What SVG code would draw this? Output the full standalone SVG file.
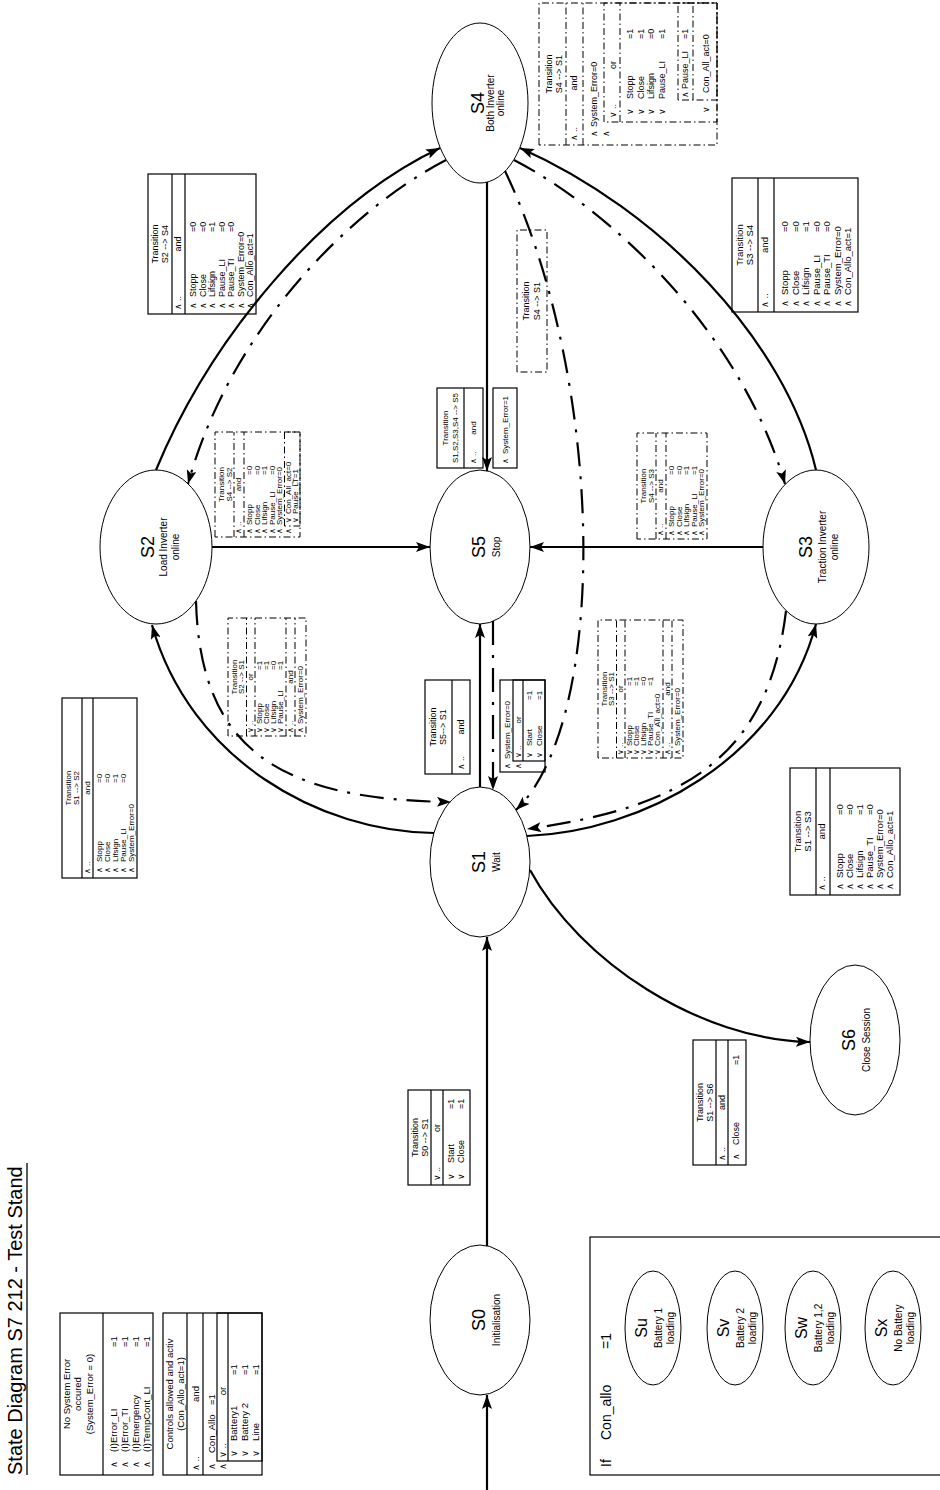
<svg xmlns="http://www.w3.org/2000/svg" width="940" height="1490" viewBox="0 0 940 1490">
<defs>
<marker id="ah" markerWidth="14" markerHeight="10" refX="14" refY="5" orient="auto" markerUnits="userSpaceOnUse">
<path d="M0,0 L14,5 L0,10 L3,5 z" fill="#000"/>
</marker>
</defs>
<style>
text{font-family:"Liberation Sans","DejaVu Sans",Arial,sans-serif;font-size:9.5px;fill:#000}
.c{text-anchor:middle}
.s8 text{font-size:8px}
.s9 text{font-size:9px}
.big{font-size:18px;text-anchor:middle}
.sub{font-size:10px;text-anchor:middle}
.box{fill:#fff;stroke:#000;stroke-width:1.2}
.dbox{fill:#fff;stroke:#000;stroke-width:1;stroke-dasharray:7 3 1.5 3}
.ln{stroke:#000;stroke-width:1.2;fill:none}
.dln{stroke:#000;stroke-width:1;fill:none;stroke-dasharray:7 3 1.5 3}
.st{fill:#fff;stroke:#000;stroke-width:1}
.e{fill:none;stroke:#000;stroke-width:2.2;marker-end:url(#ah)}
.ed{fill:none;stroke:#000;stroke-width:2.2;stroke-dasharray:24 10 3 10;marker-end:url(#ah)}
</style>
<rect width="940" height="1490" fill="#fff"/>

<g id="title">
<text transform="translate(22,1475) rotate(-90)" style="font-size:20px">State Diagram S7 212 - Test Stand</text>
<path d="M27 1475V1163" stroke="#000" stroke-width="1.3"/>
</g>

<g id="no-error" transform="translate(60,1475) rotate(-90)">
<rect class="box" width="162" height="93"/>
<text class="c" x="81" y="10">No System Error</text>
<text class="c" x="81" y="21">occured</text>
<text class="c" x="81" y="33">(System_Error = 0)</text>
<path class="ln" d="M0 43H162"/>
<text x="7" y="56.5">∧</text><text x="23" y="56.5">(I)Error_LI</text><text x="128" y="56.5">=1</text>
<text x="7" y="67.5">∧</text><text x="23" y="67.5">(I)Error_TI</text><text x="128" y="67.5">=1</text>
<text x="7" y="78.5">∧</text><text x="23" y="78.5">(I)Emergency</text><text x="128" y="78.5">=1</text>
<text x="7" y="89.5">∧</text><text x="23" y="89.5">(I)TempCont_LI</text><text x="128" y="89.5">=1</text>
</g>

<g id="controls" transform="translate(163,1475) rotate(-90)">
<rect class="box" width="162" height="99"/>
<text class="c" x="81" y="10">Controls allowed and activ</text>
<text class="c" x="81" y="21">(Con_Allo_act=1)</text>
<path class="ln" d="M0 24H162M0 40H162"/>
<text x="4" y="35.5">∧ ..</text><text class="c" x="81" y="35.5">and</text>
<text x="5" y="51.5">∧</text><text x="22" y="51.5">Con_Allo</text><text x="70" y="51.5">=1</text>
<text x="5" y="63">∧</text>
<rect class="ln" x="14" y="54" width="148" height="45"/>
<text x="17" y="62.5">∨ ..</text><text class="c" x="84" y="62.5">or</text>
<path class="ln" d="M14 65H162"/>
<text x="18" y="74">∨</text><text x="34" y="74">Battery1</text><text x="100" y="74">=1</text>
<text x="18" y="85">∨</text><text x="34" y="85">Battery 2</text><text x="100" y="85">=1</text>
<text x="18" y="96">∨</text><text x="34" y="96">Line</text><text x="100" y="96">=1</text>
</g>

<g id="t-s0-s1" class="s9" transform="translate(408,1185) rotate(-90)">
<rect class="box" width="95" height="62"/>
<text class="c" x="47.5" y="10">Transition</text>
<text class="c" x="47.5" y="19.5">S0 --&gt; S1</text>
<path class="ln" d="M0 23H95M0 35H95"/>
<text x="4" y="31.5">∨ ..</text><text x="53" y="31.5">or</text>
<text x="5" y="45.5">∨</text><text x="22" y="45.5">Start</text><text x="76" y="45.5">=1</text>
<text x="5" y="56">∨</text><text x="22" y="56">Close</text><text x="76" y="56">=1</text>
</g>

<g id="t-s1-s6" class="s9" transform="translate(693,1165) rotate(-90)">
<rect class="box" width="125" height="53"/>
<text class="c" x="62.5" y="10">Transition</text>
<text class="c" x="62.5" y="19.5">S1 --&gt; S6</text>
<path class="ln" d="M0 23H125M0 35H125"/>
<text x="4" y="31.5">∧ ..</text><text class="c" x="62.5" y="31.5">and</text>
<text x="5" y="46">∧</text><text x="20" y="46">Close</text><text x="100" y="46">=1</text>
</g>

<g id="t-s1-s3" transform="translate(790,895) rotate(-90)">
<rect class="box" width="127" height="110"/>
<text class="c" x="63.5" y="10.5">Transition</text>
<text class="c" x="63.5" y="21">S1 --&gt; S3</text>
<path class="ln" d="M0 26H127M0 40H127"/>
<text x="4" y="35">∧ ..</text><text class="c" x="63.5" y="35">and</text>
<text x="5" y="53">∧</text><text x="17" y="53">Stopp</text><text x="80" y="53">=0</text>
<text x="5" y="63">∧</text><text x="17" y="63">Close</text><text x="80" y="63">=0</text>
<text x="5" y="73">∧</text><text x="17" y="73">Lifsign</text><text x="80" y="73">=1</text>
<text x="5" y="83">∧</text><text x="17" y="83">Pause_TI</text><text x="80" y="83">=0</text>
<text x="5" y="93">∧</text><text x="17" y="93">System_Error=0</text>
<text x="5" y="103">∧</text><text x="17" y="103">Con_Allo_act=1</text>
</g>

<g id="t-s3-s4" transform="translate(732,312) rotate(-90)">
<rect class="box" width="134" height="126"/>
<text class="c" x="67" y="10.5">Transition</text>
<text class="c" x="67" y="21">S3 --&gt; S4</text>
<path class="ln" d="M0 26H134M0 42H134"/>
<text x="4" y="36">∧ ..</text><text class="c" x="67" y="36">and</text>
<text x="5" y="56">∧</text><text x="17" y="56">Stopp</text><text x="80" y="56">=0</text>
<text x="5" y="66.5">∧</text><text x="17" y="66.5">Close</text><text x="80" y="66.5">=0</text>
<text x="5" y="77">∧</text><text x="17" y="77">Lifsign</text><text x="80" y="77">=1</text>
<text x="5" y="87.5">∧</text><text x="17" y="87.5">Pause_LI</text><text x="80" y="87.5">=0</text>
<text x="5" y="98">∧</text><text x="17" y="98">Pause_TI</text><text x="80" y="98">=0</text>
<text x="5" y="108.5">∧</text><text x="17" y="108.5">System_Error=0</text>
<text x="5" y="119">∧</text><text x="17" y="119">Con_Allo_act=1</text>
</g>

<g id="t-s2-s4" class="s9" transform="translate(148,314) rotate(-90)">
<rect class="box" width="140" height="108"/>
<text class="c" x="70" y="10">Transition</text>
<text class="c" x="70" y="20">S2 --&gt; S4</text>
<path class="ln" d="M0 24H140M0 37H140"/>
<text x="4" y="33">∧ ..</text><text class="c" x="70" y="33">and</text>
<text x="5" y="48">∧</text><text x="17" y="48">Stopp</text><text x="82" y="48">=0</text>
<text x="5" y="57.5">∧</text><text x="17" y="57.5">Close</text><text x="82" y="57.5">=0</text>
<text x="5" y="67">∧</text><text x="17" y="67">Lifsign</text><text x="82" y="67">=1</text>
<text x="5" y="76.5">∧</text><text x="17" y="76.5">Pause_LI</text><text x="82" y="76.5">=0</text>
<text x="5" y="86">∧</text><text x="17" y="86">Pause_TI</text><text x="82" y="86">=0</text>
<text x="5" y="95.5">∧</text><text x="17" y="95.5">System_Error=0</text>
<text x="5" y="105">∧</text><text x="17" y="105">Con_Allo_act=1</text>
</g>

<g id="t-s1-s2" class="s8" transform="translate(62,878) rotate(-90)">
<rect class="box" width="180" height="75"/>
<text class="c" x="90" y="9">Transition</text>
<text class="c" x="90" y="17">S1 --&gt; S2</text>
<path class="ln" d="M0 20H180M0 31H180"/>
<text x="4" y="28">∧ ..</text><text class="c" x="90" y="28">and</text>
<text x="5" y="40">∧</text><text x="16" y="40">Stopp</text><text x="95" y="40">=0</text>
<text x="5" y="48">∧</text><text x="16" y="48">Close</text><text x="95" y="48">=0</text>
<text x="5" y="56">∧</text><text x="16" y="56">Lifsign</text><text x="95" y="56">=1</text>
<text x="5" y="64">∧</text><text x="16" y="64">Pause_LI</text><text x="95" y="64">=0</text>
<text x="5" y="72">∧</text><text x="16" y="72">System_Error=0</text>
</g>

<g id="t-s4-s2" class="s8" transform="translate(215,537) rotate(-90)">
<rect class="dbox" width="105" height="85"/>
<text class="c" x="52.5" y="8.5">Transition</text>
<text class="c" x="52.5" y="16.5">S4 --&gt; S2</text>
<path class="dln" d="M0 19H105M0 29H105"/>
<text x="3" y="26">∧ ..</text><text class="c" x="52.5" y="26">and</text>
<text x="3" y="37">∧</text><text x="12" y="37">Stopp</text><text x="62" y="37">=0</text>
<text x="3" y="44.5">∧</text><text x="12" y="44.5">Close</text><text x="62" y="44.5">=0</text>
<text x="3" y="52">∧</text><text x="12" y="52">Lifsign</text><text x="62" y="52">=1</text>
<text x="3" y="59.5">∧</text><text x="12" y="59.5">Pause_LI</text><text x="62" y="59.5">=0</text>
<text x="3" y="67">∧</text><text x="12" y="67">System_Error=0</text>
<text x="3" y="76">∧</text>
<rect class="dln" x="11" y="69.5" width="94" height="15.5"/>
<text x="14" y="76">∨</text><text x="23" y="76">Con_All_act=0</text>
<text x="14" y="83">∨</text><text x="23" y="83">Pause_LT=1</text>
</g>

<g id="t-s4-s3" class="s8" transform="translate(637,539) rotate(-90)">
<rect class="dbox" width="106" height="70"/>
<text class="c" x="53" y="8.5">Transition</text>
<text class="c" x="53" y="16.5">S4 --&gt; S3</text>
<path class="dln" d="M0 19H106M0 29H106"/>
<text x="3" y="26">∧ ..</text><text class="c" x="53" y="26">and</text>
<text x="3" y="37">∧</text><text x="12" y="37">Stopp</text><text x="64" y="37">=0</text>
<text x="3" y="44.5">∧</text><text x="12" y="44.5">Close</text><text x="64" y="44.5">=0</text>
<text x="3" y="52">∧</text><text x="12" y="52">Lifsign</text><text x="64" y="52">=1</text>
<text x="3" y="59.5">∧</text><text x="12" y="59.5">Pause_LI</text><text x="64" y="59.5">=1</text>
<text x="3" y="67">∧</text><text x="12" y="67">System_Error=0</text>
</g>

<g id="t-s2-s1" class="s8" transform="translate(228,736) rotate(-90)">
<rect class="dbox" width="118" height="78"/>
<text class="c" x="59" y="8.5">Transition</text>
<text class="c" x="59" y="16">S2 --&gt; S1</text>
<path class="dln" d="M0 18.5H118M0 27H118M0 58H118M0 67H118"/>
<text x="3" y="24.5">∨ ..</text><text class="c" x="59" y="24.5">or</text>
<text x="3" y="34">∨</text><text x="12" y="34">Stopp</text><text x="66" y="34">=1</text>
<text x="3" y="41">∨</text><text x="12" y="41">Close</text><text x="66" y="41">=1</text>
<text x="3" y="48">∨</text><text x="12" y="48">Lifsign</text><text x="66" y="48">=0</text>
<text x="3" y="55">∨</text><text x="12" y="55">Pause_LI</text><text x="66" y="55">=1</text>
<text x="3" y="64.5">∧ ..</text><text class="c" x="59" y="64.5">and</text>
<text x="3" y="75">∧</text><text x="12" y="75">System_Error=0</text>
</g>

<g id="t-s3-s1" class="s8" transform="translate(598,758) rotate(-90)">
<rect class="dbox" width="138" height="85"/>
<text class="c" x="69" y="8.5">Transition</text>
<text class="c" x="69" y="16">S3 --&gt; S1</text>
<path class="dln" d="M0 18.5H138M0 27H138M0 65H138M0 74H138"/>
<text x="3" y="24.5">∨ ..</text><text class="c" x="69" y="24.5">or</text>
<text x="3" y="34">∨</text><text x="12" y="34">Stopp</text><text x="72" y="34">=1</text>
<text x="3" y="41">∨</text><text x="12" y="41">Close</text><text x="72" y="41">=1</text>
<text x="3" y="48">∨</text><text x="12" y="48">Lifsign</text><text x="72" y="48">=0</text>
<text x="3" y="55">∨</text><text x="12" y="55">Pause_TI</text><text x="72" y="55">=1</text>
<text x="3" y="62">∨</text><text x="12" y="62">Con_All_act=0</text>
<text x="3" y="71.5">∧ ..</text><text class="c" x="69" y="71.5">and</text>
<text x="3" y="82">∧</text><text x="12" y="82">System_Error=0</text>
</g>

<g id="t-s4-s1-big" class="s9" transform="translate(539,145) rotate(-90)">
<rect class="dbox" width="142" height="178"/>
<text class="c" x="71" y="12.5">Transition</text>
<text class="c" x="71" y="23">S4 --&gt; S1</text>
<path class="dln" d="M0 27H142M0 44H142"/>
<text x="4" y="38">∧ ..</text><text class="c" x="62" y="38">and</text>
<text x="8" y="57.5">∧</text><text x="18" y="57.5">System_Error=0</text>
<text x="8" y="70">∧</text>
<rect class="dln" x="23" y="65" width="119" height="113"/>
<text x="27" y="77">∨ ..</text><text class="c" x="80" y="77">or</text>
<path class="dln" d="M23 81H142"/>
<text x="30" y="94">∨</text><text x="46" y="94">Stopp</text><text x="106" y="94">=1</text>
<text x="30" y="104.5">∨</text><text x="46" y="104.5">Close</text><text x="106" y="104.5">=1</text>
<text x="30" y="115">∨</text><text x="46" y="115">Lifsign</text><text x="106" y="115">=0</text>
<text x="30" y="125.5">∨</text><text x="46" y="125.5">Pause_LI</text><text x="106" y="125.5">=1</text>
<rect class="dln" x="45" y="139" width="97" height="39"/>
<path class="dln" d="M45 154H142"/>
<text x="47" y="149">∧</text><text x="56" y="149">Pause_LI</text><text x="106" y="149">=1</text>
<text x="32" y="169.5">∨</text><text x="52" y="169.5">Con_All_act=0</text>
</g>

<g id="t-s4-s1-small" class="s9" transform="translate(517,372) rotate(-90)">
<rect class="dbox" width="142" height="30"/>
<text class="c" x="71" y="11.5">Transition</text>
<text class="c" x="71" y="23">S4 --&gt; S1</text>
</g>

<g id="t-sx-s5" class="s8" transform="translate(437,468) rotate(-90)">
<rect class="box" width="80" height="46"/>
<text class="c" x="40" y="11">Transition</text>
<text class="c" x="40" y="21">S1,S2,S3,S4 --&gt; S5</text>
<path class="ln" d="M0 27H80"/>
<text x="4" y="39">∧ ..</text><text class="c" x="40" y="39">and</text>
</g>
<g id="t-sx-s5-cond" class="s8" transform="translate(493,468) rotate(-90)">
<rect class="box" width="80" height="24"/>
<text x="4" y="15">∧</text><text x="14" y="15">System_Error=1</text>
</g>

<g id="t-s5-s1" class="s9" transform="translate(425,774) rotate(-90)">
<rect class="box" width="94" height="45"/>
<text class="c" x="47" y="11">Transition</text>
<text class="c" x="47" y="21">S5--&gt; S1</text>
<path class="ln" d="M0 27H94"/>
<text x="4" y="39">∧ ..</text><text class="c" x="47" y="39">and</text>
</g>
<g id="t-s5-s1-cond" class="s8" transform="translate(500,772) rotate(-90)">
<rect class="box" width="92" height="45"/>
<text x="3" y="10">∧</text><text x="13" y="10">System_Error=0</text>
<text x="3" y="20.5">∧</text>
<rect class="ln" x="11" y="13" width="81" height="32"/>
<text x="14" y="20.5">∨ ..</text><text class="c" x="52" y="20.5">or</text>
<path class="ln" d="M11 23H92"/>
<text x="14" y="32">∨</text><text x="26" y="32">Start</text><text x="72" y="32">=1</text>
<text x="14" y="41.5">∨</text><text x="26" y="41.5">Close</text><text x="72" y="41.5">=1</text>
</g>

<g id="S4"><ellipse class="st" cx="480" cy="103" rx="48" ry="80"/>
<g transform="translate(480,103) rotate(-90)"><text class="big" y="4">S4</text><text class="sub" y="14">Both Inverter</text><text class="sub" y="24">online</text></g></g>
<g id="S5"><ellipse class="st" cx="480" cy="547" rx="50" ry="77"/>
<g transform="translate(480,547) rotate(-90)"><text class="big" y="4.5">S5</text><text class="sub" y="20">Stop</text></g></g>
<g id="S2"><ellipse class="st" cx="156" cy="547" rx="56" ry="77"/>
<g transform="translate(156,547) rotate(-90)"><text class="big" y="-2.5">S2</text><text class="sub" y="10.5">Load Inverter</text><text class="sub" y="22.5">online</text></g></g>
<g id="S3"><ellipse class="st" cx="816" cy="547" rx="53" ry="77"/>
<g transform="translate(816,547) rotate(-90)"><text class="big" y="-4.5">S3</text><text class="sub" y="9.5">Traction Inverter</text><text class="sub" y="21.5">online</text></g></g>
<g id="S1"><ellipse class="st" cx="480" cy="862" rx="50" ry="75"/>
<g transform="translate(480,862) rotate(-90)"><text class="big" y="4.5">S1</text><text class="sub" y="20">Wait</text></g></g>
<g id="S0"><ellipse class="st" cx="480" cy="1320" rx="50" ry="75"/>
<g transform="translate(480,1320) rotate(-90)"><text class="big" y="4.5">S0</text><text class="sub" y="20">Initialisation</text></g></g>
<g id="S6"><ellipse class="st" cx="855" cy="1040" rx="45" ry="75"/>
<g transform="translate(855,1040) rotate(-90)"><text class="big" y="-0.5">S6</text><text class="sub" y="14.5">Close Session</text></g></g>

<g id="con-allo-box">
<rect x="590" y="1237" width="352" height="238" fill="none" stroke="#000" stroke-width="1.2"/>
<g transform="translate(611,1467) rotate(-90)"><text x="0" y="0" style="font-size:14px">If</text><text x="27" y="0" style="font-size:14px">Con_allo</text><text x="118" y="0" style="font-size:14px">=1</text></g>
</g>
<g id="Su"><ellipse class="st" cx="653" cy="1328" rx="28" ry="57"/>
<g transform="translate(653,1328) rotate(-90)"><text class="big" style="font-size:16px" y="-6">Su</text><text class="sub" y="9">Battery 1</text><text class="sub" y="21">loading</text></g></g>
<g id="Sv"><ellipse class="st" cx="735" cy="1328" rx="28" ry="57"/>
<g transform="translate(735,1328) rotate(-90)"><text class="big" style="font-size:16px" y="-6">Sv</text><text class="sub" y="9">Battery 2</text><text class="sub" y="21">loading</text></g></g>
<g id="Sw"><ellipse class="st" cx="813" cy="1328" rx="28" ry="57"/>
<g transform="translate(813,1328) rotate(-90)"><text class="big" style="font-size:16px" y="-6">Sw</text><text class="sub" y="9">Battery 1,2</text><text class="sub" y="21">loading</text></g></g>
<g id="Sx"><ellipse class="st" cx="893" cy="1328" rx="28" ry="57"/>
<g transform="translate(893,1328) rotate(-90)"><text class="big" style="font-size:16px" y="-6">Sx</text><text class="sub" y="9">No Battery</text><text class="sub" y="21">loading</text></g></g>

<g id="connectors">
<path class="e" d="M487 1490V1395"/>
<path class="e" d="M487 1246V937"/>
<path class="e" d="M434 833C320 832 190 760 152 625"/>
<path class="ed" d="M196 601C200 750 280 800 451 802"/>
<path class="e" d="M156 470C210 340 320 205 440 148"/>
<path class="ed" d="M446 160C350 210 230 330 188 484"/>
<path class="e" d="M212 547H430"/>
<path class="e" d="M763 547H530"/>
<path class="e" d="M487 182V471"/>
<path class="e" d="M480 787V624"/>
<path class="ed" d="M493 621V790"/>
<path class="e" d="M816 470C785 340 660 210 520 148"/>
<path class="ed" d="M514 160C610 210 740 330 785 484"/>
<path class="ed" d="M505 171C605 380 610 720 516 810"/>
<path class="ed" d="M786 611C768 760 680 808 527 829"/>
<path class="e" d="M527 836C640 832 780 760 816 624"/>
<path class="e" d="M530 870C580 962 700 1040 810 1042"/>
</g>
</svg>
